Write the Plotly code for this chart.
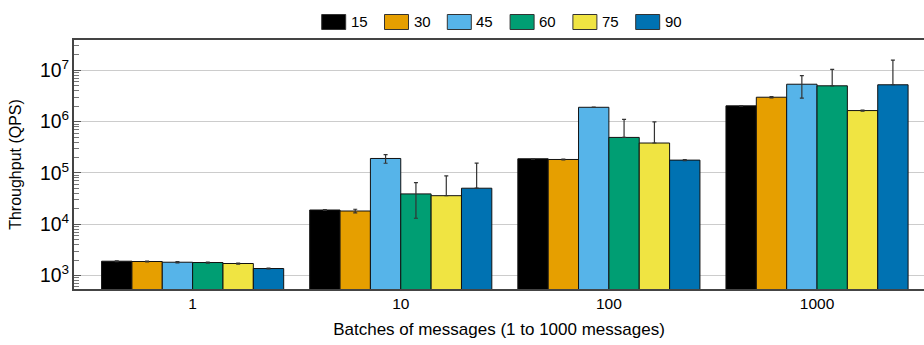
import plotly.graph_objects as go

# Batch sizes on the x axis
batches = ["1", "10", "100", "1000"]

# Series (legend entries)
series_names = ["15", "30", "45", "60", "75", "90"]
series_colors = ["#000000", "#E69F00", "#56B4E9", "#009E73", "#F0E442", "#0072B2"]

# Mean throughput (QPS) per series, one value per batch size
qps_15 = [1905, 18970, 189300, 2037000]
qps_30 = [1880, 18150, 183400, 3000000]
qps_45 = [1820, 191800, 1910000, 5380000]
qps_60 = [1795, 39100, 494000, 5010000]
qps_75 = [1718, 36100, 384000, 1648000]
qps_90 = [1371, 50500, 178200, 5250000]

# Standard deviation per series
err_15 = [30, 300, 2500, 30000]
err_30 = [35, 1500, 3000, 80000]
err_45 = [50, 37000, 20000, 2500000]
err_60 = [40, 26000, 618000, 5440000]
err_75 = [40, 51800, 604000, 40000]
err_90 = [20, 105500, 5000, 10650000]

values = [qps_15, qps_30, qps_45, qps_60, qps_75, qps_90]
errors = [err_15, err_30, err_45, err_60, err_75, err_90]

FONT = "Liberation Sans, Arial, Helvetica, sans-serif"

fig = go.Figure()
for name, color, vals, errs in zip(series_names, series_colors, values, errors):
    # lower whisker is not shown on a log axis when it would go below zero
    minus = [e if e < v else 0 for v, e in zip(vals, errs)]
    fig.add_trace(go.Bar(
        x=batches, y=vals, name=name,
        marker=dict(color=color, line=dict(color="#111111", width=1)),
        error_y=dict(type="data", array=errs, arrayminus=minus, symmetric=False,
                     color="#333333", thickness=1.2, width=2),
        showlegend=False,
    ))

W, H = 924, 345
ML, MR, MT, MB = 74, 0, 40, 56
pw = W - ML - MR
ph = H - MT - MB

def px_x(p):
    return (p - ML) / pw

def px_y(p):
    return (H - MB - p) / ph

# Manual legend row above the plot
shapes = []
annotations = []
x0 = 321.7
step = 62.8
for i, (name, color) in enumerate(zip(series_names, series_colors)):
    left = x0 + i * step
    shapes.append(dict(type="rect", xref="paper", yref="paper",
                       x0=px_x(left), x1=px_x(left + 24),
                       y0=px_y(29.5), y1=px_y(14.5),
                       fillcolor=color, line=dict(color="#333333", width=1)))
    annotations.append(dict(xref="paper", yref="paper", x=px_x(left + 27), y=px_y(22),
                            text=name, showarrow=False, xanchor="left", yanchor="middle",
                            font=dict(family=FONT, size=15, color="#000000")))

fig.update_layout(
    width=W, height=H,
    margin=dict(l=ML, r=MR, t=MT, b=MB),
    paper_bgcolor="white", plot_bgcolor="white",
    barmode="group", bargap=0.125, bargroupgap=0,
    font=dict(family=FONT, size=15, color="#000000"),
    shapes=shapes, annotations=annotations,
    xaxis=dict(
        type="category", range=[-0.57, 3.514],
        showline=True, linecolor="#444444", linewidth=1.5, mirror=True,
        ticks="", showgrid=False,
        title=dict(text="Batches of messages (1 to 1000 messages)", standoff=12,
                   font=dict(size=17)),
        tickfont=dict(size=15.5),
    ),
    yaxis=dict(
        type="log", range=[2.738, 7.593],
        showline=True, linecolor="#444444", linewidth=1.5,
        dtick=1, exponentformat="power", showexponent="all",
        ticks="inside", ticklen=7, tickcolor="#555555",
        showgrid=True, gridcolor="#cccccc", gridwidth=1,
        minor=dict(ticks="inside", ticklen=5, tickcolor="#777777", dtick="D1", showgrid=False),
        title=dict(text="Throughput (QPS)", standoff=14, font=dict(size=16)),
        tickfont=dict(size=15.5),
        zeroline=False,
    ),
)

fig.write_html("out.html")
